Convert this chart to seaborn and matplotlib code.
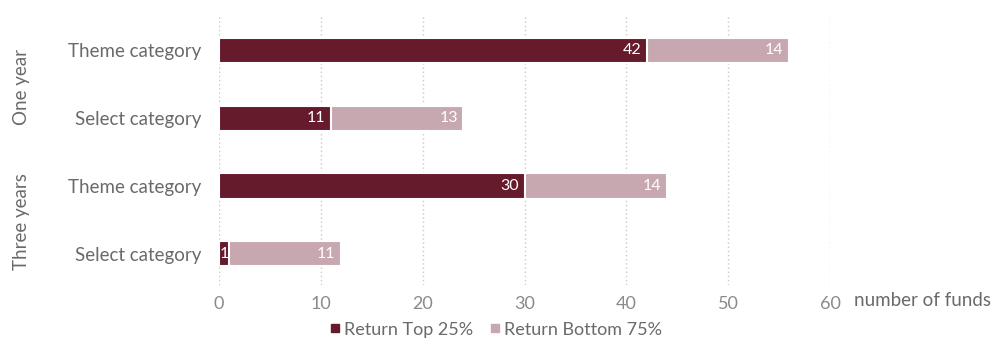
import matplotlib
matplotlib.use("Agg")
import matplotlib.pyplot as plt
from matplotlib.lines import Line2D
import seaborn as sns
import pandas as pd

# Funds per category ranked in the top 25% / bottom 75% by return
row_keys = ["1y_theme", "1y_select", "3y_theme", "3y_select"]
row_labels = ["Theme category", "Select category", "Theme category", "Select category"]
periods = ["One year", "Three years"]
top_25 = [42, 11, 30, 1]
bottom_75 = [14, 13, 14, 11]
x_ticks = [0, 10, 20, 30, 40, 50, 60]
series_names = ["Return Top 25%", "Return Bottom 75%"]

dark = "#661b2c"
light = "#c7a8b0"
grey = "#8a8a8a"
text_grey = "#6a6a6a"

df = pd.DataFrame({
    "row": row_keys,
    "top": top_25,
    "bottom": bottom_75,
})
df["total"] = df["top"] + df["bottom"]

sns.set_theme(style="white")
plt.rcParams["font.family"] = ["Lato", "DejaVu Sans"]

fig = plt.figure(figsize=(9.95, 3.44), dpi=100)
ax = fig.add_axes([219 / 995, 1 - 285 / 344, 611 / 995, 270 / 344])

# stacked bars: full total in the light shade, top share overlaid in dark
sns.barplot(data=df, x="total", y="row", order=row_keys, color=light,
            saturation=1, width=0.37, edgecolor="white", linewidth=1.5, ax=ax)
sns.barplot(data=df, x="top", y="row", order=row_keys, color=dark,
            saturation=1, width=0.37, edgecolor="white", linewidth=1.5, ax=ax)

ax.set_xlim(0, 60)
ax.set_ylim(3.46, -0.52)
ax.set_xticks(x_ticks)
ax.set_xticklabels([str(t) for t in x_ticks])
ax.set_yticks(range(len(row_keys)))
ax.set_yticklabels(row_labels)
ax.set_xlabel("")
ax.set_ylabel("")
ax.tick_params(axis="x", length=0, pad=8, labelsize=13, labelcolor=grey)
ax.tick_params(axis="y", length=0, pad=13, labelsize=13.5, labelcolor=text_grey)
for s in ax.spines.values():
    s.set_visible(False)
ax.xaxis.grid(True, linestyle=(0, (1, 2)), color="#c8c8c8", linewidth=1)
ax.set_axisbelow(True)

# value labels inside the bars
for i, (t, b) in enumerate(zip(top_25, bottom_75)):
    if t >= 3:
        ax.text(t - 0.55, i, str(t), color="white", ha="right", va="center", fontsize=11.5)
    else:
        ax.text(t / 2, i, str(t), color="white", ha="center", va="center", fontsize=11.5)
    ax.text(t + b - 0.55, i, str(b), color="white", ha="right", va="center", fontsize=11.5)

ax.text(1.04, -0.058, "number of funds", transform=ax.transAxes, ha="left", va="center",
        fontsize=13.5, color=text_grey)

# period group labels
fig.text(22 / 995, 1 - 87 / 344, periods[0], rotation=90, ha="center", va="center",
         fontsize=13.5, color=text_grey)
fig.text(22 / 995, 1 - 222 / 344, periods[1], rotation=90, ha="center", va="center",
         fontsize=13.5, color=text_grey)

handles = [Line2D([], [], marker="s", linestyle="", markersize=6, color=c)
           for c in (dark, light)]
fig.legend(handles, series_names, loc="upper center", bbox_to_anchor=(495 / 995, 1 - 318 / 344),
           ncol=2, frameon=False, fontsize=13, handletextpad=0.1, columnspacing=0.8,
           labelcolor=text_grey, handlelength=0.8, borderaxespad=0, borderpad=0.2)

fig.savefig("out.png", dpi=100)
